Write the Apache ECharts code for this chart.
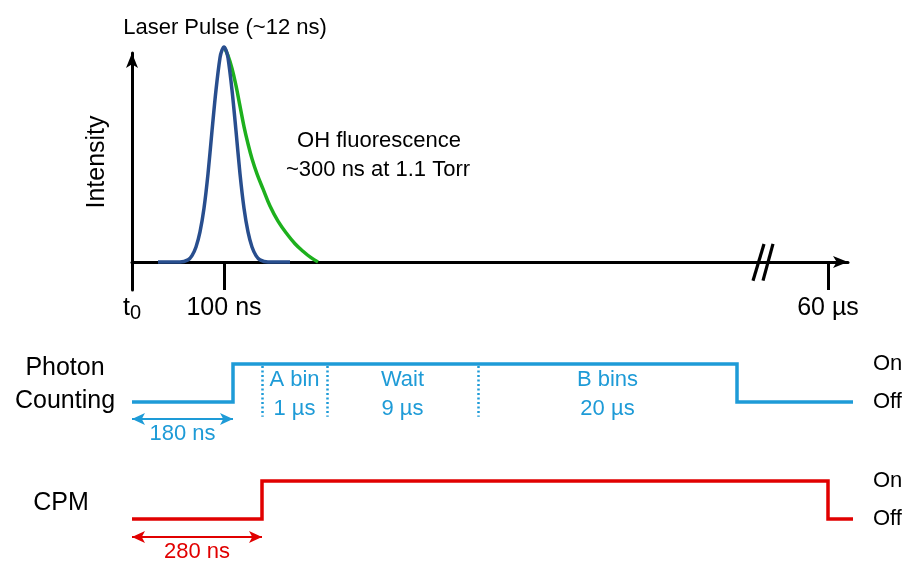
<!DOCTYPE html>
<html>
<head>
<meta charset="utf-8">
<script src="https://cdn.jsdelivr.net/npm/echarts@6/dist/echarts.min.js"></script>
<style>
  html, body { margin: 0; padding: 0; background: #ffffff; }
  #chart { width: 906px; height: 563px; }
</style>
</head>
<body>
<div id="chart"></div>
<script>
// Timing scheme for the OH fluorescence measurement.
// The horizontal axis is schematic (not to scale): one unit per screen pixel.

// Top panel: intensity vs time
const axisTickPositions = [0, 92, 696];
const axisTickLabels = ['t0', '100 ns', '60 µs'];

const laserPulse = [
  [26, 0], [48, 0], [56, 0.01], [60, 0.03], [64, 0.07], [68, 0.14], [72, 0.25],
  [76, 0.41], [80, 0.61], [84, 0.80], [88, 0.95], [90, 0.985], [92, 1.00], [94, 0.985],
  [96, 0.95], [100, 0.80], [104, 0.61], [108, 0.41], [112, 0.25], [116, 0.14],
  [120, 0.07], [124, 0.03], [128, 0.01], [136, 0], [158, 0]
];

const ohFluorescence = [
  [92, 1.00], [96, 0.96], [100, 0.90], [104, 0.82], [108, 0.725], [112, 0.63],
  [116, 0.55], [120, 0.48], [125, 0.41], [131, 0.34], [138, 0.26], [146, 0.19],
  [155, 0.13], [163, 0.085], [171, 0.05], [179, 0.02], [186, 0]
];

// the "//" break drawn across the time axis
const axisBreak = [
  [[632, 0.084], [621, -0.087]],
  [[641, 0.084], [631, -0.087]]
];

// Photon counting gate (0 = Off, 1 = On)
const photonCounting = [[0, 0], [101, 0], [101, 1], [605, 1], [605, 0], [721, 0]];
const binEdges = [130, 195, 346, 605];
const binNames = ['A bin', 'Wait', 'B bins'];
const binDurations = ['1 µs', '9 µs', '20 µs'];
const photonDelay = '180 ns';

// CPM gate (0 = Off, 1 = On)
const cpmGate = [[0, 0], [130, 0], [130, 1], [696, 1], [696, 0], [721, 0]];
const cpmDelay = '280 ns';

const stateValues = [0, 1];
const stateLabels = ['Off', 'On'];

const FONT = '"Liberation Sans", Arial, Helvetica, sans-serif';
const BLACK = '#000000';
const CYAN = '#1E9BD7';
const RED = '#E10000';
const NAVY = '#284E8E';
const GREEN = '#1DB01D';

const chart = echarts.init(document.getElementById('chart'), null, { renderer: 'canvas' });

const hiddenX = (gi) => ({ gridIndex: gi, type: 'value', min: 0, max: 723, show: false });
const stateAxis = (gi) => ({
  gridIndex: gi, type: 'value', min: -0.6, max: 1, position: 'right',
  axisLine: { show: false }, axisTick: { show: false }, splitLine: { show: false },
  axisLabel: {
    show: true, customValues: stateValues, margin: 18, align: 'left',
    fontFamily: FONT, fontSize: 22, color: BLACK,
    formatter: (v) => stateLabels[stateValues.indexOf(v)]
  }
});

const bins = binNames.map((name, i) => ({
  name: name + '\n' + binDurations[i],
  value: [(binEdges[i] + binEdges[i + 1]) / 2, 0.2]
}));

const delayArrow = (riseX, y, text, color) => [
  {
    coord: [0, y], symbol: 'arrow', symbolSize: [9, 13],
    lineStyle: { color: color, width: 2, type: 'solid' },
    label: {
      show: true, position: 'insideMiddleBottom', distance: 4, formatter: text,
      color: color, fontFamily: FONT, fontSize: 22
    }
  },
  { coord: [riseX, y], symbol: 'arrow', symbolSize: [9, 13] }
];

const option = {
  animation: false,
  backgroundColor: '#ffffff',
  grid: [
    { left: 132, right: 58, top: 53, height: 237 },
    { left: 132, right: 51, top: 364, height: 60.8 },
    { left: 132, right: 51, top: 481, height: 60.8 }
  ],
  xAxis: [
    {
      gridIndex: 0, type: 'value', min: 0, max: 716,
      axisLine: {
        show: true, onZero: true, symbol: ['none', 'arrow'], symbolSize: [9, 15],
        lineStyle: { color: BLACK, width: 3 }
      },
      axisTick: {
        show: true, customValues: axisTickPositions, length: 28, inside: false,
        lineStyle: { color: BLACK, width: 3 }
      },
      axisLabel: {
        show: true, customValues: axisTickPositions, margin: 3,
        formatter: (v) => {
          const lab = axisTickLabels[axisTickPositions.indexOf(v)];
          if (/^t\d$/.test(lab)) return '{t|' + lab[0] + '}{s|' + lab.slice(1) + '}';
          return '{n|' + lab + '}';
        },
        rich: {
          t: { fontFamily: FONT, fontSize: 25, lineHeight: 30, color: BLACK },
          s: { fontFamily: FONT, fontSize: 20, lineHeight: 16, color: BLACK, verticalAlign: 'bottom' },
          n: { fontFamily: FONT, fontSize: 25, lineHeight: 30, color: BLACK }
        }
      },
      splitLine: { show: false }
    },
    hiddenX(1),
    hiddenX(2)
  ],
  yAxis: [
    {
      gridIndex: 0, type: 'value', min: -28 / 215, max: 209 / 215,
      axisLine: {
        show: true, onZero: false, symbol: ['none', 'arrow'], symbolSize: [9, 15],
        lineStyle: { color: BLACK, width: 3 }
      },
      axisTick: { show: false }, axisLabel: { show: false }, splitLine: { show: false }
    },
    stateAxis(1),
    stateAxis(2)
  ],
  graphic: [
    { type: 'text', x: 225, y: 28, style: { text: 'Laser Pulse (~12 ns)', font: '22px ' + FONT, fill: BLACK, align: 'center', verticalAlign: 'middle' } },
    { type: 'text', x: 97, y: 162, rotation: Math.PI / 2, style: { text: 'Intensity', font: '25px ' + FONT, fill: BLACK, align: 'center', verticalAlign: 'middle' } },
    { type: 'text', x: 379, y: 141, style: { text: 'OH fluorescence', font: '22px ' + FONT, fill: BLACK, align: 'center', verticalAlign: 'middle' } },
    { type: 'text', x: 378, y: 170, style: { text: '~300 ns at 1.1 Torr', font: '22px ' + FONT, fill: BLACK, align: 'center', verticalAlign: 'middle' } },
    { type: 'text', x: 65, y: 368, style: { text: 'Photon', font: '25px ' + FONT, fill: BLACK, align: 'center', verticalAlign: 'middle' } },
    { type: 'text', x: 65, y: 401, style: { text: 'Counting', font: '25px ' + FONT, fill: BLACK, align: 'center', verticalAlign: 'middle' } },
    { type: 'text', x: 61, y: 503, style: { text: 'CPM', font: '25px ' + FONT, fill: BLACK, align: 'center', verticalAlign: 'middle' } }
  ],
  series: [
    {
      name: 'OH fluorescence', type: 'line', xAxisIndex: 0, yAxisIndex: 0,
      data: ohFluorescence, smooth: 0.4, symbol: 'none', clip: false, z: 3,
      lineStyle: { color: GREEN, width: 3.5 }
    },
    {
      name: 'Laser pulse', type: 'line', xAxisIndex: 0, yAxisIndex: 0,
      data: laserPulse, smooth: 0.3, symbol: 'none', clip: false, z: 4,
      lineStyle: { color: NAVY, width: 3.5 },
      markLine: {
        silent: true, symbol: 'none', animation: false,
        label: { show: false },
        lineStyle: { color: BLACK, width: 3.2, type: 'solid' },
        data: axisBreak.map((seg) => [{ coord: seg[0] }, { coord: seg[1] }])
      }
    },
    {
      name: 'Photon Counting', type: 'line', xAxisIndex: 1, yAxisIndex: 1,
      data: photonCounting, symbol: 'none', clip: false,
      lineStyle: { color: CYAN, width: 3.5, join: 'miter' },
      markLine: {
        silent: true, animation: false, symbol: 'none',
        data: binEdges.slice(0, 3).map((x) => [
          { coord: [x, 0.95], symbol: 'none', lineStyle: { color: CYAN, width: 2.5, type: [2, 2.5] }, label: { show: false } },
          { coord: [x, -0.39], symbol: 'none' }
        ]).concat([delayArrow(photonCounting[1][0], -0.447, photonDelay, CYAN)])
      }
    },
    {
      name: 'Bins', type: 'scatter', xAxisIndex: 1, yAxisIndex: 1,
      data: bins, symbolSize: 0, silent: true,
      itemStyle: { opacity: 1 },
      label: {
        show: true, position: 'inside', formatter: '{b}', opacity: 1,
        color: CYAN, fontFamily: FONT, fontSize: 22, lineHeight: 29
      }
    },
    {
      name: 'CPM', type: 'line', xAxisIndex: 2, yAxisIndex: 2,
      data: cpmGate, symbol: 'none', clip: false,
      lineStyle: { color: RED, width: 3.5, join: 'miter' },
      markLine: {
        silent: true, animation: false,
        data: [delayArrow(cpmGate[1][0], -0.474, cpmDelay, RED)]
      }
    }
  ]
};

chart.setOption(option);
</script>
</body>
</html>
